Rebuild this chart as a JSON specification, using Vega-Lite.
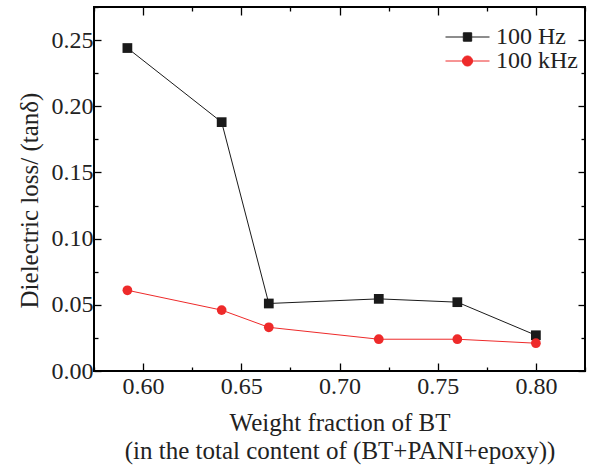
{
  "$schema": "https://vega.github.io/schema/vega-lite/v6.json",
  "width": 491,
  "height": 364,
  "autosize": "none",
  "padding": {"left": 94, "top": 7, "right": 10, "bottom": 95},
  "background": "white",
  "config": {
    "font": "Liberation Serif",
    "view": {"stroke": "#000", "strokeWidth": 2},
    "axis": {"grid": false, "domain": false, "tickColor": "#000", "tickWidth": 1.3, "labelColor": "#222", "titleColor": "#222", "labelFont": "Liberation Serif", "titleFont": "Liberation Serif", "titleFontWeight": "normal", "labelFontSize": 24, "titleFontSize": 25},
    "legend": {"labelFont": "Liberation Serif"}
  },
  "data": {
    "values": [
      {"x": 0.592, "y": 0.244, "series": "100 Hz"},
      {"x": 0.640, "y": 0.188, "series": "100 Hz"},
      {"x": 0.664, "y": 0.051, "series": "100 Hz"},
      {"x": 0.720, "y": 0.0545, "series": "100 Hz"},
      {"x": 0.760, "y": 0.052, "series": "100 Hz"},
      {"x": 0.800, "y": 0.027, "series": "100 Hz"},
      {"x": 0.592, "y": 0.061, "series": "100 kHz"},
      {"x": 0.640, "y": 0.046, "series": "100 kHz"},
      {"x": 0.664, "y": 0.033, "series": "100 kHz"},
      {"x": 0.720, "y": 0.024, "series": "100 kHz"},
      {"x": 0.760, "y": 0.024, "series": "100 kHz"},
      {"x": 0.800, "y": 0.021, "series": "100 kHz"}
    ]
  },
  "resolve": {"axis": {"x": "independent", "y": "independent"}},
  "layer": [
    {
      "transform": [{"filter": "datum.series === '100 Hz'"}],
      "mark": {"type": "line", "strokeWidth": 1, "color": "#1a1a1a"},
      "encoding": {
        "x": {
          "field": "x", "type": "quantitative",
          "scale": {"domain": [0.575, 0.825], "nice": false, "zero": false},
          "axis": {
            "orient": "bottom",
            "values": [0.575, 0.6, 0.625, 0.65, 0.675, 0.7, 0.725, 0.75, 0.775, 0.8, 0.825],
            "labelExpr": "round(datum.value*1000) % 50 === 0 ? format(datum.value, '.2f') : ''",
            "tickSize": {"condition": {"test": "round(datum.value*1000) % 50 === 0", "value": -8}, "value": -4},
            "labelPadding": 11,
            "labelFlush": false,
            "labelOverlap": false,
            "title": ["Weight fraction of BT", "(in the total content of (BT+PANI+epoxy))"],
            "titlePadding": 8,
            "titleLineHeight": 28
          }
        },
        "y": {
          "field": "y", "type": "quantitative",
          "scale": {"domain": [0, 0.275], "nice": false, "zero": false},
          "axis": {
            "orient": "left",
            "values": [0, 0.025, 0.05, 0.075, 0.1, 0.125, 0.15, 0.175, 0.2, 0.225, 0.25, 0.275],
            "labelExpr": "round(datum.value*1000) % 50 === 0 ? format(datum.value, '.2f') : ''",
            "tickSize": {"condition": {"test": "round(datum.value*1000) % 50 === 0", "value": -7}, "value": -4},
            "labelPadding": 8,
            "labelFlush": false,
            "labelOverlap": false,
            "title": "Dielectric loss/ (tanδ)",
            "titleX": -57,
            "titleY": 193,
            "titleBaseline": "alphabetic",
            "titleAlign": "center"
          }
        }
      }
    },
    {
      "transform": [{"filter": "datum.series === '100 kHz'"}],
      "mark": {"type": "line", "strokeWidth": 1, "color": "#ee2a2a"},
      "encoding": {
        "x": {"field": "x", "type": "quantitative", "axis": {"orient": "top", "values": [0.575, 0.6, 0.625, 0.65, 0.675, 0.7, 0.725, 0.75, 0.775, 0.8, 0.825], "labels": false, "title": null, "tickSize": {"condition": {"test": "round(datum.value*1000) % 50 === 0", "value": -8}, "value": -4}}},
        "y": {"field": "y", "type": "quantitative", "axis": {"orient": "right", "values": [0, 0.025, 0.05, 0.075, 0.1, 0.125, 0.15, 0.175, 0.2, 0.225, 0.25, 0.275], "labels": false, "title": null, "tickSize": {"condition": {"test": "round(datum.value*1000) % 50 === 0", "value": -7}, "value": -4}}}
      }
    },
    {
      "transform": [{"filter": "datum.series === '100 Hz'"}],
      "mark": {"type": "point", "filled": true, "opacity": 1, "shape": "square", "size": 95, "color": "#1a1a1a"},
      "encoding": {
        "x": {"field": "x", "type": "quantitative", "axis": null},
        "y": {"field": "y", "type": "quantitative", "axis": null}
      }
    },
    {
      "transform": [{"filter": "datum.series === '100 kHz'"}],
      "mark": {"type": "point", "filled": true, "opacity": 1, "shape": "circle", "size": 95, "color": "#ee2a2a"},
      "encoding": {
        "x": {"field": "x", "type": "quantitative", "axis": null},
        "y": {"field": "y", "type": "quantitative", "axis": null}
      }
    },
    {
      "mark": {"type": "point", "filled": true, "opacity": 0},
      "encoding": {
        "x": {"field": "x", "type": "quantitative", "axis": null},
        "y": {"field": "y", "type": "quantitative", "axis": null},
        "color": {
          "field": "series", "type": "nominal",
          "scale": {"domain": ["100 Hz", "100 kHz"], "range": ["#1a1a1a", "#ee2a2a"]},
          "legend": {"orient": "none", "legendX": 351, "legendY": 19, "title": null, "padding": 0, "labelFontSize": 24, "labelColor": "#222", "labelOffset": 6, "symbolSize": 1936, "clipHeight": 22, "rowPadding": 0, "symbolOpacity": 1, "symbolStrokeWidth": 1}
        },
        "stroke": {
          "field": "series", "type": "nominal",
          "scale": {"domain": ["100 Hz", "100 kHz"], "range": ["#1a1a1a", "#ee2a2a"]},
          "legend": {"orient": "none", "legendX": 351, "legendY": 19, "title": null, "padding": 0, "labelFontSize": 24, "labelColor": "#222", "labelOffset": 6, "symbolSize": 1936, "clipHeight": 22, "rowPadding": 0, "symbolOpacity": 1, "symbolStrokeWidth": 1}
        },
        "shape": {
          "field": "series", "type": "nominal",
          "scale": {"domain": ["100 Hz", "100 kHz"], "range": ["M-1,0H-0.19M0.19,0H1M-0.19,-0.19H0.19V0.19H-0.19Z", "M-1,0H-0.23M0.23,0H1M-0.23,0A0.23,0.23 0 1,0 0.23,0A0.23,0.23 0 1,0 -0.23,0Z"]},
          "legend": {"orient": "none", "legendX": 351, "legendY": 19, "title": null, "padding": 0, "labelFontSize": 24, "labelColor": "#222", "labelOffset": 6, "symbolSize": 1936, "clipHeight": 22, "rowPadding": 0, "symbolOpacity": 1, "symbolStrokeWidth": 1}
        }
      }
    }
  ]
}
